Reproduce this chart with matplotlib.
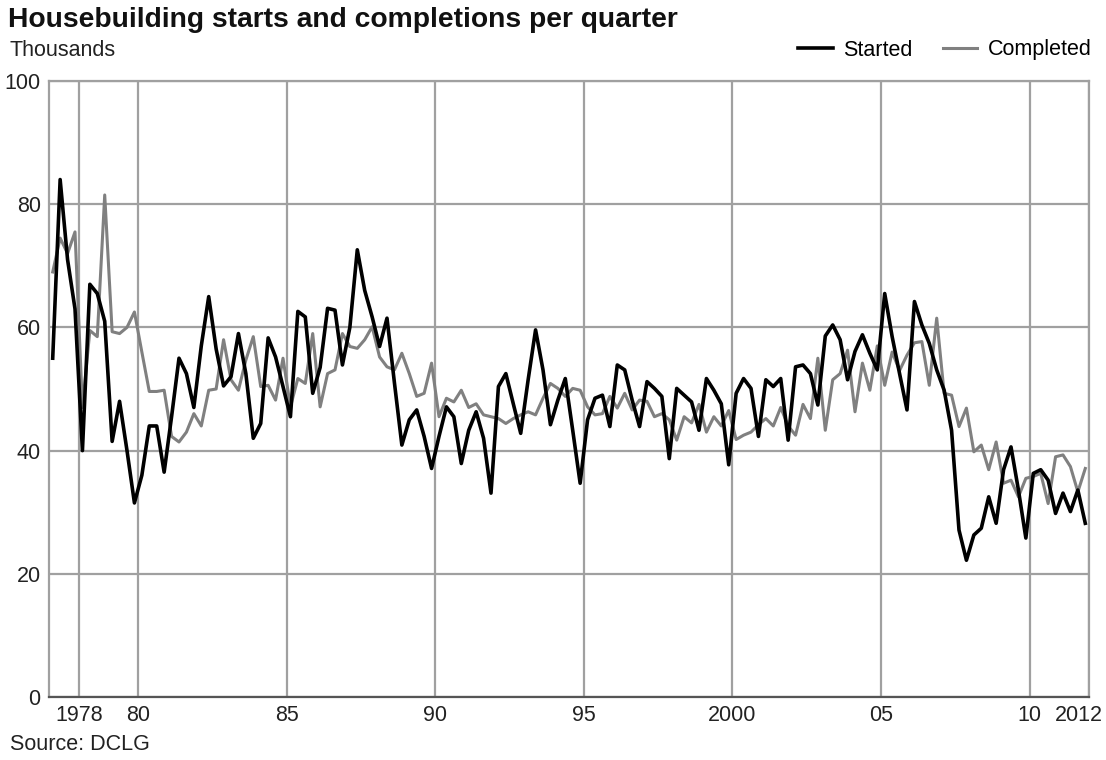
import numpy as np
import matplotlib
matplotlib.use("Agg")
import matplotlib.pyplot as plt
import matplotlib.transforms as mtransforms

# ---- data (thousands, quarterly 1977 Q1 - 2011 Q4) ----
start_year = 1977
started = [
    55, 84, 71, 63, 40, 67, 65.5, 61, 41.5, 48, 40, 31.5, 36, 44, 44, 36.5,
    45.5, 55, 52.5, 47, 57, 65, 56.5, 50.5, 52, 59, 52.5, 42,
    44.4, 58.3, 55.2, 50.4, 45.5, 62.6, 61.7, 49.3, 53.5, 63.1, 62.8, 53.9,
    60, 72.6, 66, 61.7, 56.9, 61.5, 51, 40.9, 45, 46.6, 42.3, 37.1, 42.3,
    47.1, 45.5, 37.9, 43.3,
    46.3, 42, 33.1, 50.4, 52.5, 47.6, 42.8, 51.5, 59.6, 53.1, 44.2, 48.2,
    51.7, 43.3, 34.7, 45, 48.5, 49, 43.9, 53.9, 53.1, 48.2, 43.9, 51.2,
    50.1, 48.8, 38.7, 50.1,
    49, 47.9, 43.3, 51.7, 49.8, 47.6, 37.7, 49.3, 51.7, 50.1, 42.3, 51.5,
    50.4, 51.7, 41.7, 53.6, 53.9, 52.5, 47.4, 58.6, 60.4, 58, 51.5, 56.1,
    58.8, 55.8, 53.1,
    65.5, 58.5, 52.5, 46.6, 64.2, 60.4, 57.4, 53.1, 49.8, 43.3, 27.1, 22.2,
    26.3, 27.4, 32.5, 28.2, 36.9, 40.6, 33.6, 25.8, 36.3, 36.9, 35.2, 29.8,
    33.1, 30.1, 33.6, 28.2,
]
completed = [
    69, 74.5, 72, 75.5, 47, 59.5, 58.5, 81.5, 59.3, 59, 60, 62.5, 56, 49.6,
    49.6, 49.8, 42.3, 41.4, 43, 46, 44, 49.8, 50, 58, 51.5, 49.8, 54.7, 58.5,
    50.4, 50.6, 48.2, 55, 47.1, 51.7, 50.9, 59, 47.1, 52.5, 53.1, 59, 56.9,
    56.6, 58, 60.1, 55.2, 53.6, 53.1, 55.8, 52.5, 48.8, 49.3, 54.2, 45.5,
    48.5, 47.9, 49.8, 47,
    47.6, 45.8, 45.5, 45.2, 44.4, 45.2, 45.8, 46.3, 45.8, 48.5, 50.9, 50.1,
    48.8, 50.1, 49.8, 47.1, 45.8, 46, 48.8, 46.9, 49.3, 46.6, 48.2, 48,
    45.5, 46, 45, 41.7,
    45.5, 44.5, 47.5, 43, 45.5, 44, 46.5, 41.8, 42.5, 43, 44.2, 45.2, 44,
    47, 44, 42.5, 47.5, 45.2, 55, 43.3, 51.5, 52.5, 56.3, 46.3, 54.2, 49.8, 57,
    50.6, 56, 53, 55.5, 57.5, 57.7, 50.6, 61.5, 49.3, 49, 43.9, 46.9, 39.8,
    40.9, 36.9, 41.4, 34.7, 35.2, 32.5, 35.5, 35.8, 36.3, 31.4, 39, 39.3,
    37.4, 33.3, 37.1,
]
xtick_years = [1978, 1980, 1985, 1990, 1995, 2000, 2005, 2010, 2012]
xtick_labels = ["1978", "80", "85", "90", "95", "2000", "05", "10", "2012"]
ytick_vals = [0, 20, 40, 60, 80, 100]
series_names = ["Started", "Completed"]

n = len(started)
x = start_year + (np.arange(n) + 0.5) / 4.0

FONT = ["Liberation Sans", "DejaVu Sans"]
plt.rcParams["font.family"] = FONT

fig = plt.figure(figsize=(11.06, 7.60), dpi=100)
ax = fig.add_axes([49 / 1106, 1 - 697 / 760, (1089 - 49) / 1106, (697 - 81) / 760])

grid_c = "#a0a0a0"
ax.set_xlim(1977, 2012)
ax.set_ylim(0, 100)
ax.set_xticks(xtick_years)
ax.set_xticklabels(xtick_labels)
ax.set_yticks(ytick_vals)
ax.grid(True, color=grid_c, linewidth=1.6)
ax.set_axisbelow(True)
ax.tick_params(length=0, labelsize=15.5, colors="#222222", pad=6)
for s in ax.spines.values():
    s.set_color(grid_c)
    s.set_linewidth(1.6)
ax.spines["bottom"].set_color("#555555")

ax.plot(x, completed, color="#808080", linewidth=2.2, label=series_names[1])
ax.plot(x, started, color="#000000", linewidth=2.6, label=series_names[0])

# shift last x tick label left so it fits
lab = ax.get_xticklabels()[-1]
lab.set_transform(lab.get_transform() + mtransforms.ScaledTranslation(-10 / 100, 0, fig.dpi_scale_trans))

handles, labels = ax.get_legend_handles_labels()
order = [1, 0]
fig.legend([handles[i] for i in order], [labels[i] for i in order],
           loc="center right", bbox_to_anchor=(1092 / 1106, 1 - 50 / 760),
           ncol=2, frameon=False, fontsize=15.5, handlelength=1.6,
           handletextpad=0.5, columnspacing=1.4, borderaxespad=0, borderpad=0)

fig.text(8 / 1106, 1 - 20 / 760, "Housebuilding starts and completions per quarter",
         fontsize=20.3, fontweight="bold", va="center", ha="left", color="#111111")
fig.text(10 / 1106, 1 - 50 / 760, "Thousands", fontsize=15.5, va="center", ha="left",
         color="#222222")
fig.text(10 / 1106, 1 - 744 / 760, "Source: DCLG", fontsize=15.5, va="center", ha="left",
         color="#222222")

fig.savefig("out.png", dpi=100)
